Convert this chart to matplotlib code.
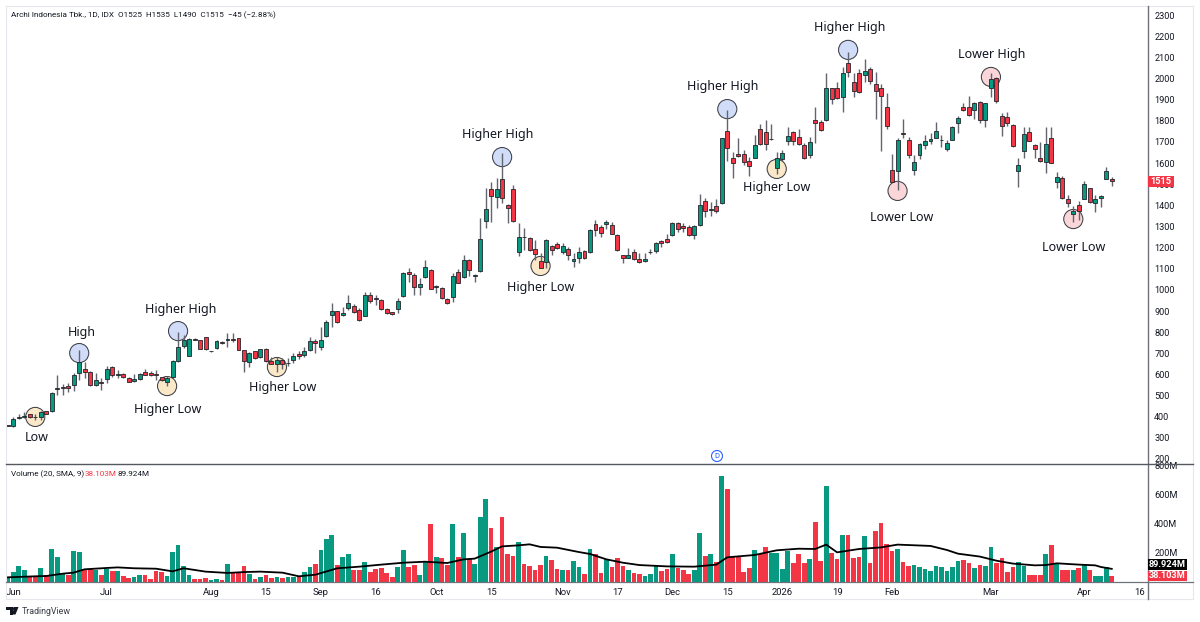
import matplotlib
matplotlib.use("Agg")
import matplotlib.pyplot as plt
from matplotlib.lines import Line2D
from matplotlib.patches import Rectangle, Polygon, Ellipse

plt.rcParams['font.family'] = ['Roboto', 'DejaVu Sans']

opens = [358,357,393,400,411,398,398,425,425,529,
 540,543,548,609,627,613,548,565,580,633,
 597,603,583,567,580,611,608,603,586,565,
 589,663,734,688,769,762,777,711,723,755,
 761,767,770,714,657,710,682,721,663,649,
 669,652,668,695,694,717,760,732,782,883,
 899,880,913,924,905,874,976,963,950,908,
 893,908,971,1086,1072,1012,1059,1094,1015,1008,
 958,966,1086,1059,1139,1065,1089,1327,1475,1441,
 1523,1401,1477,1180,1251,1247,1193,1135,1130,1209,
 1215,1177,1193,1135,1149,1185,1177,1311,1295,1311,
 1306,1261,1164,1153,1177,1145,1138,1177,1183,1231,
 1240,1259,1314,1302,1298,1259,1305,1418,1380,1396,
 1409,1753,1622,1641,1641,1609,1625,1760,1745,1715,
 1578,1620,1705,1746,1721,1685,1639,1803,1792,1803,
 1953,1953,1910,2074,1984,2024,2014,2043,1972,1957,
 1866,1569,1562,1743,1711,1569,1639,1685,1705,1719,
 1708,1666,1711,1790,1866,1866,1852,1888,1803,1954,
 2000,1822,1819,1782,1562,1655,1746,1685,1625,1606,
 1716,1511,1530,1432,1361,1401,1432,1480,1412,1434,
 1525,1525]
highs = [360,397,412,422,411,412,428,428,518,595,
 553,561,605,715,660,616,605,581,639,639,
 621,605,586,602,608,624,614,621,589,592,
 668,802,786,770,770,762,778,711,762,759,
 794,794,772,715,704,712,721,723,684,684,
 676,676,700,711,732,779,766,823,858,937,
 902,921,976,933,913,990,992,975,955,912,
 897,960,1083,1102,1078,1054,1141,1097,1023,1012,
 963,1081,1097,1165,1144,1073,1338,1480,1508,1527,
 1646,1406,1496,1314,1291,1248,1236,1176,1239,1212,
 1228,1220,1201,1173,1201,1188,1286,1330,1306,1330,
 1322,1264,1167,1196,1191,1175,1175,1194,1227,1235,
 1262,1322,1319,1314,1306,1306,1453,1436,1417,1432,
 1720,1850,1653,1716,1661,1630,1732,1784,1803,1784,
 1653,1661,1772,1753,1759,1693,1721,1866,1803,2024,
 1957,1984,2055,2126,2024,2043,2091,2052,2031,1976,
 1932,1642,1716,1806,1721,1637,1696,1732,1743,1792,
 1732,1711,1774,1822,1882,1916,1890,1894,1885,2027,
 2005,1838,1842,1784,1626,1771,1768,1692,1697,1771,
 1771,1558,1538,1448,1396,1421,1516,1483,1448,1448,
 1579,1535]
lows = [355,352,387,393,395,384,384,411,423,501,
 504,518,521,573,584,546,545,526,561,586,
 584,584,562,564,576,595,592,573,570,545,
 583,660,723,687,764,718,716,708,721,744,
 728,755,714,613,635,675,680,661,647,613,
 628,639,653,675,681,713,703,716,776,826,
 842,874,905,889,855,874,937,928,904,886,
 881,892,968,1038,975,975,1054,1002,983,955,
 933,944,1031,1054,1067,1035,1083,1291,1322,1389,
 1412,1314,1322,1161,1188,1184,1141,1102,1102,1165,
 1193,1169,1141,1106,1125,1147,1173,1254,1251,1286,
 1264,1185,1125,1149,1141,1128,1133,1169,1172,1201,
 1224,1256,1275,1275,1256,1240,1302,1343,1350,1362,
 1406,1611,1527,1630,1590,1538,1622,1685,1661,1708,
 1548,1611,1685,1685,1685,1617,1622,1693,1753,1800,
 1879,1901,1842,2005,1913,1929,1984,1976,1806,1656,
 1763,1511,1472,1716,1626,1543,1617,1664,1692,1716,
 1677,1658,1708,1740,1847,1822,1806,1790,1768,1913,
 1885,1727,1774,1678,1487,1626,1704,1626,1606,1551,
 1598,1480,1432,1390,1322,1330,1429,1412,1369,1390,
 1522,1490]
closes = [357,387,400,403,398,400,420,414,513,537,
 537,538,597,657,613,550,573,559,628,597,
 602,587,565,580,603,598,595,595,572,584,
 665,731,762,769,764,718,718,710,759,747,
 769,764,715,665,701,677,718,663,650,669,
 649,652,687,687,710,760,747,762,847,899,
 850,892,940,897,858,976,945,955,908,890,
 884,949,1078,1075,1012,1027,1109,1005,1015,960,
 936,1065,1034,1139,1094,1072,1239,1381,1442,1477,
 1436,1389,1327,1251,1248,1187,1171,1105,1236,1187,
 1196,1207,1163,1147,1177,1149,1283,1283,1270,1322,
 1264,1188,1149,1164,1144,1131,1147,1179,1223,1221,
 1228,1316,1289,1291,1259,1302,1403,1374,1380,1374,
 1716,1669,1598,1631,1606,1585,1683,1690,1690,1712,
 1622,1647,1727,1705,1690,1622,1699,1790,1756,1953,
 1901,1908,2024,2031,1942,1937,2033,1986,1942,1918,
 1774,1511,1708,1737,1636,1607,1691,1705,1713,1751,
 1709,1696,1768,1812,1852,1827,1886,1803,1882,1998,
 1893,1773,1787,1681,1592,1737,1705,1667,1609,1691,
 1601,1532,1435,1412,1371,1374,1500,1415,1432,1442,
 1562,1515]

volumes = [30,71,110,84,37,37,98,48,224,171,
 55,46,212,203,87,87,82,50,91,73,
 75,39,30,34,50,50,23,75,66,43,
 203,251,107,46,21,21,27,14,21,14,
 121,64,64,112,55,23,37,46,27,32,
 27,32,32,41,68,103,123,219,295,320,
 114,169,192,82,82,137,71,89,98,64,
 34,105,219,105,114,48,144,395,171,167,
 116,395,171,338,158,123,443,568,368,240,
 443,194,176,274,121,110,80,119,176,151,
 89,84,84,142,100,55,228,189,59,158,
 105,167,110,84,59,53,43,57,119,75,
 89,192,98,84,57,84,338,176,189,137,
 726,637,174,180,66,94,219,194,242,199,
 201,89,212,128,189,132,155,411,146,657,
 199,158,320,320,167,171,315,128,349,402,
 258,210,228,137,110,114,100,87,78,110,
 100,78,105,144,151,128,96,119,110,237,
 128,167,71,100,137,110,46,48,46,189,
 253,123,84,80,80,94,119,80,41,41,
 100,38.103]
vol_colors = ("GGGGRRGRGG" "GRGGRRGRGR" "GRRGGRRRRG" "GGGGRRRGGR"
              "GRRRGRGRRG" "RGGRGGRGGG" "RGGRRGRRRR" "RGGRRGGRGR"
              "RGRGRGGGRG" "RRRGRRRRGR" "RGRGGRGRRG" "RRRGRRGGGR"
              "RGRRRGGRGR" "GRRRRRGRRG" "GGGRRRGRRG" "RRGRRRGRRR"
              "RRGRRGGGGG" "GGGGRRGRGG" "RRRRGGRRRG" "RGRRGRGRGG"
              "GR")

sma_idx = [0,5,7,10,12,14,18,20,23,27,30,32,36,40,43,46,50,53,56,60,64,68,
           72,76,80,83,85,88,90,93,95,97,100,104,106,109,112,115,120,125,129,131,136,140,144,
           147,149,151,155,159,162,168,171,173,177,180,183,187,189,191,195,198,199,201]
sma_vals = [32,39,41,57,64,87,96,100,94,91,73,94,71,62,68,71,64,39,50,94,105,119,
            132,139,130,155,160,208,244,251,258,240,235,205,192,155,132,116,107,105,119,169,185,217,228,
            226,256,203,226,237,256,247,219,194,174,146,126,114,116,128,119,114,103,89.924]

price_ticks = list(range(200, 2400, 100))
volume_ticks = [200, 400, 600, 800]
volume_tick_labels = ['200M', '400M', '600M', '800M']
date_idx = [1,18,37,47,57,67,78,88,101,111,121,131,141,151,161,179,196,206]
date_labels = ['Jun','Jul','Aug','15','Sep','16','Oct','15','Nov','17','Dec','15','2026','19','Feb','Mar','Apr','16']

note_texts = ['Low','High','Higher Low','Higher High','Higher Low','Higher High','Higher Low',
              'Higher High','Higher Low','Higher High','Lower Low','Lower High','Lower Low']
note_bar = [5,13,29,31,49,90,97,131,140,153,162,179,194]
note_price = [399,701,545,805,635,1628,1113,1855,1572,2135,1468,2007,1335]
note_kind = ['o','b','o','b','o','b','o','b','o','b','p','p','p']
text_bar = [5.3,13.5,29.2,31.4,50.1,89.2,97.1,130.2,140,153.3,162.8,179.2,194]
text_price = [309,801,441,914,545,1742,1018,1969,1487,2248,1345,2116,1207]

GREEN = '#089981'
RED = '#f23645'
INK = '#131722'
FILL = {'o': '#fbe8c8', 'b': '#d0dcf8', 'p': '#fbd6d8'}

W, H = 1200, 622
fig = plt.figure(figsize=(W/100, H/100), dpi=100, facecolor='white')

def rect(l, t, r, b):
    return [l/W, (H-b)/H, (r-l)/W, (b-t)/H]

def fx(x): return x/W
def fy(y): return (H-y)/H

ax = fig.add_axes(rect(6, 6, 1148, 464))
vax = fig.add_axes(rect(6, 464, 1148, 582), sharex=ax)

xs = list(range(len(closes)))
ax.set_xlim(-0.329, 207.6)
ax.set_ylim(176.35, 2342.6)
vax.set_ylim(0, 808)

# annotation circles, behind the candles
ax.scatter(note_bar, note_price, s=190, c=[FILL[k] for k in note_kind],
           edgecolors='#3c3f48', linewidths=0.75, zorder=1)

# candles
ax.vlines(xs, lows, highs, colors='#62656d', linewidths=1.0, zorder=2)
body_bottom = [min(o, c) for o, c in zip(opens, closes)]
body_height = [max(abs(c - o), 3) for o, c in zip(opens, closes)]
body_color = [GREEN if c >= o else RED for o, c in zip(opens, closes)]
ax.bar(xs, body_height, bottom=body_bottom, width=0.72, color=body_color,
       edgecolor='#22242a', linewidth=0.6, zorder=3)

for t, b, p in zip(note_texts, text_bar, text_price):
    ax.text(b, p - 5, t, ha='center', va='center', fontsize=9.0, color=INK, zorder=5,
            family=['Noto Sans', 'DejaVu Sans'])

# volume
vax.bar(xs, volumes, width=0.86, color=[GREEN if c == 'G' else RED for c in vol_colors],
        linewidth=0, zorder=2)
vax.plot(sma_idx, sma_vals, color='#000000', lw=1.3, zorder=3)

for a in (ax, vax):
    for s in a.spines.values():
        s.set_visible(False)
    a.yaxis.tick_right()
    a.tick_params(axis='y', length=0, pad=4.5, labelsize=6.6, labelcolor=INK)
ax.set_yticks(price_ticks)
ax.set_yticklabels([str(p) for p in price_ticks])
ax.tick_params(axis='x', length=0, labelbottom=False)
vax.set_yticks(volume_ticks)
vax.set_yticklabels(volume_tick_labels)
vax.set_xticks(date_idx)
vax.set_xticklabels(date_labels)
vax.tick_params(axis='x', length=0, pad=4, labelsize=6.8, labelcolor=INK)

# chart frame and separators
def fline(x0, y0, x1, y1, color, lw):
    fig.add_artist(Line2D([fx(x0), fx(x1)], [fy(y0), fy(y1)], color=color, lw=lw,
                          transform=fig.transFigure, zorder=6))

fline(6, 6, 1193, 6, '#e6e8ee', 0.8)
fline(6, 6, 6, 599, '#e6e8ee', 0.8)
fline(1193, 6, 1193, 599, '#e6e8ee', 0.8)
fline(6, 599, 1193, 599, '#e6e8ee', 0.8)
fline(1148, 6, 1148, 599, '#6f727b', 1.0)
fline(6, 464, 1193, 464, '#55585f', 1.0)
fline(6, 582, 1193, 582, '#6f727b', 0.9)

# header texts
fig.text(fx(11), fy(15), 'Archi Indonesia Tbk., 1D, IDX  O1525  H1535  L1490  C1515  \u221245 (\u22122.88%)',
         fontsize=5.9, color=INK, ha='left', va='center')
fig.text(fx(11), fy(474), 'Volume (20, SMA, 9)', fontsize=5.9, color=INK, ha='left', va='center')
fig.text(fx(85), fy(474), '38.103M', fontsize=5.9, color=RED, ha='left', va='center')
fig.text(fx(118), fy(474), '89.924M', fontsize=5.9, color=INK, ha='left', va='center')

# price tags
def tag(x0, y0, x1, y1, color, label, size):
    fig.add_artist(Rectangle((fx(x0), fy(y1)), (x1-x0)/W, (y1-y0)/H, transform=fig.transFigure,
                             facecolor=color, edgecolor='none', zorder=7))
    fig.text(fx((x0+x1)/2), fy((y0+y1)/2), label, color='white', fontsize=size, ha='center',
             va='center', fontweight='bold', zorder=8)

tag(1148, 176, 1174, 187, RED, '1515', 6.6)
tag(1148, 559, 1187, 570, '#000000', '89.924M', 6.6)
tag(1148, 571, 1187, 581, RED, '38.103M', 6.6)

# session break marker
fig.add_artist(Ellipse((fx(717), fy(456)), 11/W, 11/H, transform=fig.transFigure, facecolor='white',
                       edgecolor='#2962ff', lw=0.8, zorder=7))
fig.text(fx(717), fy(456), 'D', color='#2962ff', fontsize=5.5, ha='center', va='center', zorder=8)

# TradingView mark
dark = '#131722'
fig.add_artist(Polygon([(fx(6), fy(607)), (fx(12.5), fy(607)), (fx(12.5), fy(614.5)), (fx(9.5), fy(614.5)),
                        (fx(9.5), fy(610)), (fx(6), fy(610))], closed=True, transform=fig.transFigure,
                       facecolor=dark, edgecolor='none'))
fig.add_artist(Ellipse((fx(14.4), fy(608.6)), 3.2/W, 3.2/H, transform=fig.transFigure, facecolor=dark, edgecolor='none'))
fig.add_artist(Polygon([(fx(14.5), fy(607)), (fx(18.5), fy(607)), (fx(15.5), fy(614.5)), (fx(11.8), fy(614.5))],
                       closed=True, transform=fig.transFigure, facecolor=dark, edgecolor='none'))
fig.text(fx(21.5), fy(611), 'TradingView', fontsize=6.4, color='#3a3d45', ha='left', va='center')

fig.savefig('out.png', dpi=100, facecolor='white')
